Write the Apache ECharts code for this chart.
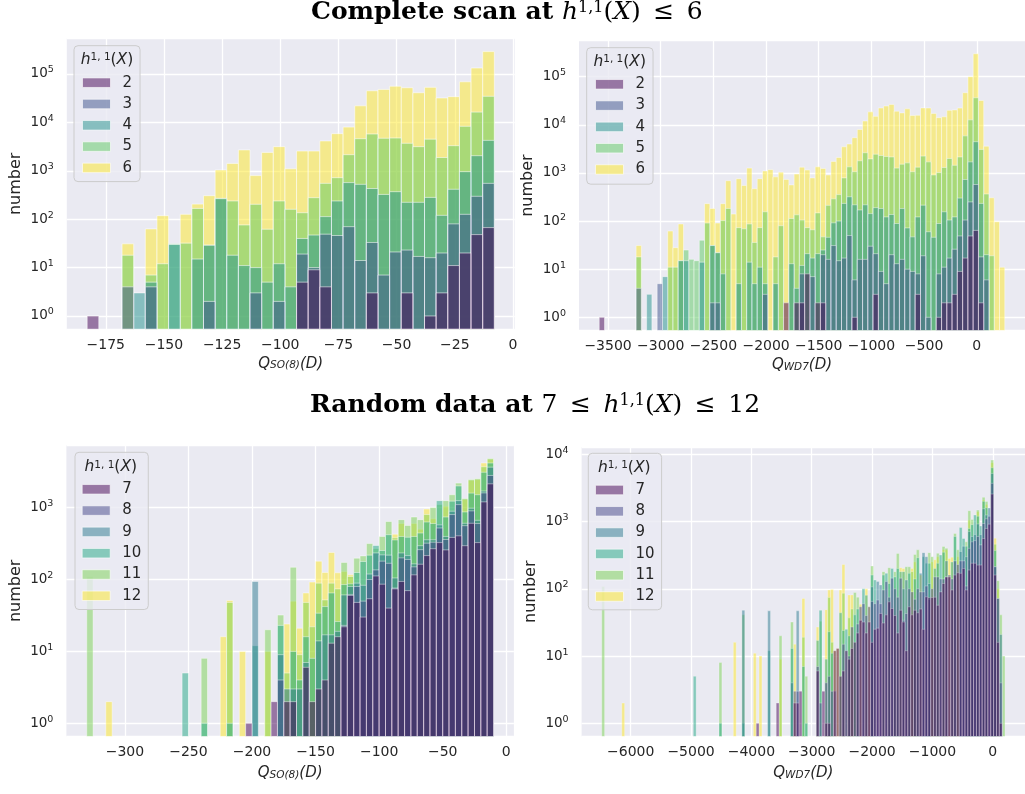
<!DOCTYPE html>
<html>
<head>
    <meta charset="utf-8" />
    <title>Q histograms</title>
    <script type="text/javascript" src="https://cdn.jsdelivr.net/npm/echarts@6/dist/echarts.min.js"></script>
    <style>
        html, body { margin: 0; padding: 0; background: #ffffff; }
        #chart { width: 1025px; height: 794px; }
    </style>
</head>
<body>
    <div id="chart"></div>
    <script type="text/javascript">
        // ---- panel 1: Q_SO(8), complete scan, bins of 5 starting at -183
        var p1Start = -183, p1Step = 5;
        var p1Ticks = [-175, -150, -125, -100, -75, -50, -25, 0];
        var p1Names = ['2', '3', '4', '5', '6'];
        var p1h2 = [1,0,0,0,0,0,0,0,0,0, 0,0,0,0,0,0,0,0,5,9, 4,0,0,0,3,0,0,3,0,1, 3,11,20,48,67];
        var p1h3 = [0,0,0,4,0,4,0,0,0,0, 2,0,0,0,3,0,2,0,19,10, 49,46,70,14,33,7,21,23,17,16, 20,80,126,297,550];
        var p1h4 = [0,0,0,0,3,5,0,30,0,15, 29,265,18,11,10,5,12,4,40,47, 113,238,570,525,430,325,370,223,223,282, 120,415,960,2050,4250];
        var p1h5 = [0,0,0,18,0,7,12,31,32,167, 29,270,238,76,203,62,238,160,136,278, 550,720,2150,4600,5760,4700,4760,3700,3150,4500, 1880,3300,8300,16300,34600];
        var p1h6 = [0,0,0,31,0,63,118,0,126,205, 306,1040,1420,2700,795,2400,3150,1100,2560,2560, 4140,5850,8000,22000,45000,48000,56000,52000,41000,53000, 32000,34000,69000,133000,290000];

        // ---- panel 2: Q_WD7, complete scan, bins of 50 starting at -3584
        var p2Start = -3584, p2Step = 50;
        var p2Ticks = [-3500, -3000, -2500, -2000, -1500, -1000, -500, 0];
        var p2h2 = [1,0,0,0,0,0,0,0,0,0, 0,0,0,0,0,0,0,0,0,0, 0,0,0,0,0,0,0,0,0,0, 0,0,0,0,0,2,0,2,2,8, 0,2,2,0,0,0,0,0,1,0, 0,0,3,0,0,0,0,0,0,0, 3,0,0,0,1,2,2,3,9,17, 49,64,2,0,0,0,0];
        var p2h3 = [0,0,0,0,0,0,0,4,0,0, 0,5,0,0,0,0,0,0,0,0, 0,2,2,0,0,0,0,0,0,0, 0,3,0,0,0,0,0,0,8,0, 7,0,20,16,31,15,17,50,6,16, 16,30,21,9,5,20,13,16,10,9, 8,19,1,0,8,11,17,26,49,105, 250,575,18,6,0,0,0];
        var p2h4 = [0,0,0,0,0,0,0,0,0,3, 0,0,7,0,0,15,15,0,0,14, 0,31,22,8,0,0,5,0,14,5, 11,5,0,5,0,0,13,4,12,21, 17,21,25,46,92,100,233,320,218,170, 218,143,190,182,122,137,89,182,72,47, 122,214,60,46,89,156,105,122,300,730, 1700,4460,233,20,0,0,0];
        var p2h5 = [0,0,0,0,0,0,0,18,0,0, 0,0,0,11,11,15,25,16,15,40, 91,31,22,103,183,0,73,69,87,36, 73,156,0,18,80,0,113,135,105,73, 66,148,47,212,290,355,790,1340,1060,1790, 2630,1960,2450,2300,2200,2150,1260,1520,1620,1060, 1320,2240,1700,910,1020,1300,2000,1440,2150,5900, 12700,36500,3090,365,19,0,0];
        var p2h6 = [0,0,0,0,0,0,0,31,0,0, 0,0,0,62,28,87,0,0,0,0, 230,183,91,230,690,140,760,550,1260,470, 760,1100,1170,830,1040,735,565,950,1320,1150, 790,1340,1240,910,1740,2100,3500,4000,5400,8000, 12000,18600,15000,22400,24600,26600,19200,17700,21500,15600, 15800,22500,22400,17300,14100,14700,20000,20400,22300,46500, 100000,300000,32000,3600,305,97,11];

        // ---- panel 3: Q_SO(8), random data, bins of 5 starting at -330
        var p3Start = -330, p3Step = 5;
        var p3Ticks = [-300, -250, -200, -150, -100, -50, 0];
        var p3Names = ['7', '8', '9', '10', '11', '12'];
        var p3h7 = [0,0,0,0,0,0,0,0,0,0, 0,0,0,0,0,0,0,0,0,0, 0,0,0,0,0,1,0,0,0,2, 0,2,2,0,6,2,3,4,13,16, 22,60,48,30,54,112,86,40,74,94, 70,116,163,215,268,326,258,385,405,295, 605,326,1200,2140];
        var p3h8 = [0,0,0,0,0,0,0,0,0,0, 0,0,0,0,0,0,0,0,0,0, 0,0,0,0,0,0,0,0,0,0, 4,0,0,0,0,0,0,0,0,0, 23,62,80,50,100,136,180,168,76,200, 190,150,260,320,330,520,360,800,1100,560, 900,600,1600,2800];
        var p3h9 = [0,0,0,0,0,0,0,0,0,0, 0,0,0,0,0,0,0,0,0,0, 0,0,0,0,0,0,94,0,0,0, 9,3,3,3,7,0,14,17,17,19, 61,80,89,83,119,234,220,218,105,234, 215,165,295,357,357,575,397,890,1250,605, 980,665,1700,3650];
        var p3h10 = [0,0,0,0,0,0,0,0,0,0, 0,0,0,0,0,5,0,0,1,0, 0,0,1,0,0,0,12,0,0,0, 23,0,10,4,16,8,34,42,65,26, 85,87,125,178,218,297,253,420,355,397, 387,397,443,630,600,1250,740,1230,2000,870, 1590,1510,3100,4170];
        var p3h11 = [110,0,0,0,0,0,0,0,0,0, 0,0,0,0,0,0,0,0,8,0, 0,0,48,0,0,0,0,0,20,0, 32,5,148,9,48,22,89,52,89,74, 173,110,198,213,316,270,397,640,380,680, 565,740,680,800,1000,1100,1250,1510,2190,1340, 2450,2520,3700,4800];
        var p3h12 = [0,0,0,2,0,0,0,0,0,0, 0,0,0,0,0,0,0,0,0,0, 0,16,51,0,10,0,0,0,10,0, 0,24,50,21,65,92,180,125,238,124, 129,116,0,0,0,0,0,0,427,600, 0,600,500,955,700,0,1040,0,0,1300, 2400,2450,4170,4700];

        // ---- panel 4: Q_WD7, random data, bins of 47.4 starting at -6480
        var p4Start = -6480, p4Step = 47.4;
        var p4Ticks = [-6000, -5000, -4000, -3000, -2000, -1000, 0];
        var p4h7 = [0,0,0,0,0,0,0,0,0,0, 0,0,0,0,0,0,0,0,0,0, 0,0,0,0,0,0,0,0,0,0, 0,0,0,0,0,0,0,0,0,0,
            0,0,0,0,0,0,0,0,0,0, 0,0,0,0,1,0,0,0,0,0, 0,2,0,0,0,0,0,2,2,3, 0,0,0,0,0,6,0,3,1,1,
            0,12,13,5,6,12,9,13,16,22, 34,32,22,32,16,25,26,43,31,41, 64,51,40,22,48,32,12,54,41,48, 44,50,25,76,74,74,75,57,90,120,
            150,150,96,160,173,170,200,96,190,240, 240,225,225,560,790,915,2560,160,16,1, 0];
        var p4h8 = [0,0,0,0,0,0,0,0,0,0, 0,0,0,0,0,0,0,0,0,0, 0,0,0,0,0,0,0,0,0,0, 0,0,0,0,0,0,0,0,0,0,
            0,0,0,0,0,0,0,0,0,0, 0,0,0,0,0,0,0,0,0,0, 0,0,0,0,0,0,0,3,3,0, 0,0,0,0,0,7,2,0,4,5,
            3,3,0,0,15,0,10,27,0,30, 54,60,40,54,65,60,68,60,96,128, 75,144,100,75,144,34,43,100,90,70, 100,90,90,110,70,100,150,150,140,140,
            150,160,140,260,230,260,260,110,400,500, 520,600,450,935,1100,1200,3700,213,72,4, 0];
        var p4h9 = [0,0,0,0,0,0,0,0,0,0, 0,0,0,0,0,0,0,0,0,0, 0,0,0,0,0,0,0,0,0,0, 0,0,0,0,0,0,0,0,0,0,
            0,0,0,0,0,0,0,0,0,48, 0,0,0,0,0,0,0,0,47,0, 0,0,0,0,0,0,4,0,47,0, 0,0,0,0,0,0,0,0,0,0,
            0,0,0,0,0,0,0,0,0,0, 0,0,0,0,107,0,128,114,0,0, 0,0,0,0,0,100,135,0,0,0, 0,170,345,300,120,0,0,0,0,0,
            260,0,0,0,0,360,430,300,710,600, 640,920,640,1550,1250,1590,5200,213,72,21, 0];
        var p4h10 = [0,0,0,0,0,0,0,0,0,0, 0,0,0,0,0,0,0,0,0,0, 0,0,0,0,0,0,0,0,0,0, 0,0,5,0,0,0,0,0,0,0,
            0,1,0,0,0,0,0,0,0,1, 0,0,0,0,0,0,0,0,12,0, 0,0,0,0,0,0,13,0,0,0, 7,1,0,0,0,17,48,0,9,23,
            11,0,0,44,24,25,20,0,41,50, 0,100,80,0,160,135,0,0,160,170, 120,200,150,200,180,180,0,170,0,140, 290,0,300,240,240,0,200,240,318,350,
            0,0,250,600,0,815,560,430,790,900, 1250,1200,860,2000,1600,0,6300,370,0,0, 0];
        var p4h11 = [108,0,0,0,0,0,0,0,0,0, 0,0,0,0,0,0,0,0,0,0, 0,0,0,0,0,0,0,0,0,0, 0,0,0,0,0,0,0,0,0,0,
            0,8,0,0,0,0,0,0,0,41, 0,0,0,0,0,0,0,0,0,0, 0,0,20,0,0,0,32,0,0,0, 19,5,0,0,0,0,33,0,0,74,
            16,0,0,0,86,0,37,50,88,75, 0,0,0,0,218,0,0,0,180,0, 206,0,180,336,0,0,213,213,180,324, 380,0,0,0,345,300,0,337,0,425,
            400,0,0,665,380,0,0,500,1450,1070, 0,1480,0,2290,1990,0,8200,460,132,41, 10];
        var p4h12 = [0,0,0,0,0,0,0,2,0,0, 0,0,0,0,0,0,0,0,0,0, 0,0,0,0,0,0,0,0,0,0, 0,0,0,0,0,0,0,0,0,0,
            0,0,0,0,0,0,16,0,0,0, 0,0,0,11,0,10,0,0,0,0, 0,0,9,0,0,0,0,15,0,0, 72,0,0,0,0,27,0,0,49,96,
            98,12,13,96,230,0,81,81,0,0, 59,0,100,54,0,0,0,0,0,0, 0,0,0,0,206,200,0,0,200,250, 0,160,0,0,0,250,270,300,0,380,
            380,283,295,0,300,0,0,0,1050,0, 0,1400,0,2100,1800,0,7500,565,100,0, 0];

        // viridis, alpha 0.5 (layered histogram)
        var colorsA = ['rgba(68,1,84,0.5)', 'rgba(59,82,139,0.5)', 'rgba(33,145,140,0.5)', 'rgba(94,201,98,0.5)', 'rgba(253,231,37,0.5)'];
        var colorsB = ['rgba(68,1,84,0.5)', 'rgba(65,68,135,0.5)', 'rgba(42,120,142,0.5)', 'rgba(34,168,132,0.5)', 'rgba(122,209,81,0.5)', 'rgba(253,231,37,0.5)'];

        var font = 'DejaVu Sans';
        var ink = '#262626';

        var panels = [
            { grid: { left: 66.8, top: 38.4, width: 447.9, height: 290.8 }, xMin: -191.75, xMax: 0.75, yMin: 0.533, yMax: 543800,
              ticks: p1Ticks, start: p1Start, step: p1Step, names: p1Names, counts: [p1h2, p1h3, p1h4, p1h5, p1h6], colors: colorsA,
              sub: 'SO(8)', lw: 1, leg: { left: 74, top: 45.7, pad: [29.5, 8, 6.2, 8], cx: 107, cy: 60 } },
            { grid: { left: 579.0, top: 40.6, width: 447.7, height: 289.9 }, xMin: -3776, xMax: 458, yMin: 0.532, yMax: 563000,
              ticks: p2Ticks, start: p2Start, step: p2Step, names: p1Names, counts: [p2h2, p2h3, p2h4, p2h5, p2h6], colors: colorsA,
              sub: 'WD7', lw: 0.8, leg: { left: 586.7, top: 47.7, pad: [29.1, 8, 7.2, 8.3], cx: 619.7, cy: 61.7 } },
            { grid: { left: 66.4, top: 445.1, width: 447.5, height: 291.4 }, xMin: -346, xMax: 6, yMin: 0.655, yMax: 7400,
              ticks: p3Ticks, start: p3Start, step: p3Step, names: p3Names, counts: [p3h7, p3h8, p3h9, p3h10, p3h11, p3h12], colors: colorsB,
              sub: 'SO(8)', lw: 0.8, leg: { left: 75, top: 452.3, pad: [29.5, 7, 6.2, 6.7], cx: 110.8, cy: 467.3 } },
            { grid: { left: 581.6, top: 446.9, width: 445.8, height: 289.6 }, xMin: -6814, xMax: 534, yMin: 0.637, yMax: 12880,
              ticks: p4Ticks, start: p4Start, step: p4Step, names: p3Names, counts: [p4h7, p4h8, p4h9, p4h10, p4h11, p4h12], colors: colorsB,
              sub: 'WD7', lw: 0.5, leg: { left: 588.3, top: 453.3, pad: [29.2, 7, 5.8, 6.7], cx: 624.3, cy: 467.7 } }
        ];

        function binData(start, step, counts) {
            var out = [];
            for (var i = 0; i < counts.length; i++) {
                if (counts[i] > 0) out.push([start + i * step, start + (i + 1) * step, counts[i]]);
            }
            return out;
        }

        function makeRender(yMin, lw) {
            return function (params, api) {
                var top = api.coord([api.value(0), api.value(2)]);
                var base = api.coord([api.value(1), yMin]);
                return {
                    type: 'rect',
                    shape: { x: top[0], y: top[1], width: base[0] - top[0], height: base[1] - top[1] },
                    style: { fill: api.visual('color'), stroke: 'rgba(255,255,255,0.55)', lineWidth: lw }
                };
            };
        }

        function logLabel(v) {
            var e = Math.log(v) / Math.LN10;
            if (Math.abs(e - Math.round(e)) > 1e-6) return '';
            return '{b|10}{s|' + Math.round(e) + '}';
        }

        var grids = [], xAxes = [], yAxes = [], series = [], legends = [], graphics = [];

        panels.forEach(function (p, pi) {
            grids.push({
                left: p.grid.left, top: p.grid.top, width: p.grid.width, height: p.grid.height,
                show: true, backgroundColor: '#eaeaf2', borderWidth: 0
            });
            xAxes.push({
                type: 'value', gridIndex: pi, min: p.xMin, max: p.xMax,
                axisLine: { show: false },
                axisTick: { show: false, customValues: p.ticks },
                axisLabel: {
                    customValues: p.ticks, color: ink, fontFamily: font, fontSize: 14, margin: 9,
                    formatter: function (v) { return String(v).replace('-', '\u2212'); }
                },
                splitLine: { show: true, lineStyle: { color: '#ffffff', width: 1.3 } },
                name: '{i|Q}{s|' + p.sub + '}{i|(D)}', nameLocation: 'middle', nameGap: pi < 2 ? 27 : 29,
                nameTextStyle: {
                    color: ink,
                    rich: {
                        i: { fontFamily: font, fontStyle: 'italic', fontSize: 15, color: ink },
                        s: { fontFamily: font, fontStyle: 'italic', fontSize: 10.5, color: ink, verticalAlign: 'bottom' }
                    }
                }
            });
            yAxes.push({
                type: 'log', logBase: 10, gridIndex: pi, min: p.yMin, max: p.yMax,
                axisLine: { show: false }, axisTick: { show: false },
                axisLabel: {
                    formatter: logLabel, margin: 13,
                    rich: {
                        b: { fontFamily: font, fontSize: 13.5, color: ink, lineHeight: 18 },
                        s: { fontFamily: font, fontSize: 9.5, color: ink, verticalAlign: 'top', lineHeight: 11 }
                    }
                },
                splitLine: { show: true, lineStyle: { color: '#ffffff', width: 1.3 } },
                name: 'number', nameLocation: 'middle', nameGap: 43,
                nameTextStyle: { fontFamily: font, fontSize: 16, color: ink }
            });
            // draw highest hue first so the lowest hue ends up on top
            for (var h = p.counts.length - 1; h >= 0; h--) {
                series.push({
                    type: 'custom', name: p.names[h], xAxisIndex: pi, yAxisIndex: pi,
                    renderItem: makeRender(p.yMin, p.lw), clip: true, silent: true,
                    itemStyle: { color: p.colors[h] },
                    encode: { x: [0, 1], y: 2 },
                    data: binData(p.start, p.step, p.counts[h])
                });
            }
            legends.push({
                orient: 'vertical', left: p.leg.left, top: p.leg.top, padding: p.leg.pad,
                itemWidth: 28, itemHeight: 9.5, itemGap: 6.3, icon: 'rect', selectedMode: false,
                backgroundColor: 'rgba(234,234,242,0.8)', borderColor: '#cccccc', borderWidth: 1, borderRadius: 4,
                itemStyle: { borderColor: 'rgba(255,255,255,0.6)', borderWidth: 1 },
                textStyle: { fontFamily: font, fontSize: 15, color: ink, padding: [0, 0, 0, 7] },
                data: p.names.slice()
            });
            graphics.push({
                type: 'text', z: 100, x: p.leg.cx, y: p.leg.cy,
                style: {
                    text: '{i|h}{s|1, 1}{r|(}{i|X}{r|)}', align: 'center', verticalAlign: 'middle',
                    rich: {
                        i: { fontFamily: font, fontStyle: 'italic', fontSize: 15.5, fill: ink, color: ink },
                        r: { fontFamily: font, fontSize: 15.5, fill: ink, color: ink },
                        s: { fontFamily: font, fontSize: 10.5, fill: ink, color: ink, verticalAlign: 'top', lineHeight: 10 }
                    }
                }
            });
        });

        var titleRich = {
            b: { fontFamily: 'DejaVu Serif', fontWeight: 'bold', fontSize: 25, color: '#000000' },
            i: { fontFamily: 'DejaVu Serif', fontStyle: 'italic', fontWeight: 'normal', fontSize: 25, color: '#000000' },
            r: { fontFamily: 'DejaVu Serif', fontWeight: 'normal', fontSize: 25, color: '#000000' },
            s: { fontFamily: 'DejaVu Serif', fontWeight: 'normal', fontSize: 16, color: '#000000', verticalAlign: 'top', lineHeight: 14 }
        };

        var option = {
            animation: false,
            backgroundColor: '#ffffff',
            title: [
                { text: '{b|Complete scan at }{i|h}{s|1,1}{r|(}{i|X}{r|)\u2002\u2264\u20026}', left: 311, top: 0, padding: 0, textStyle: { fontWeight: 'normal', rich: titleRich } },
                { text: '{b|Random data at }{r|7\u2002\u2264\u2002}{i|h}{s|1,1}{r|(}{i|X}{r|)\u2002\u2264\u200212}', left: 310, top: 393, padding: 0, textStyle: { fontWeight: 'normal', rich: titleRich } }
            ],
            grid: grids,
            xAxis: xAxes,
            yAxis: yAxes,
            legend: legends,
            graphic: graphics,
            series: series
        };

        var myChart = echarts.init(document.getElementById('chart'));
        option && myChart.setOption(option);
    </script>
</body>
</html>
